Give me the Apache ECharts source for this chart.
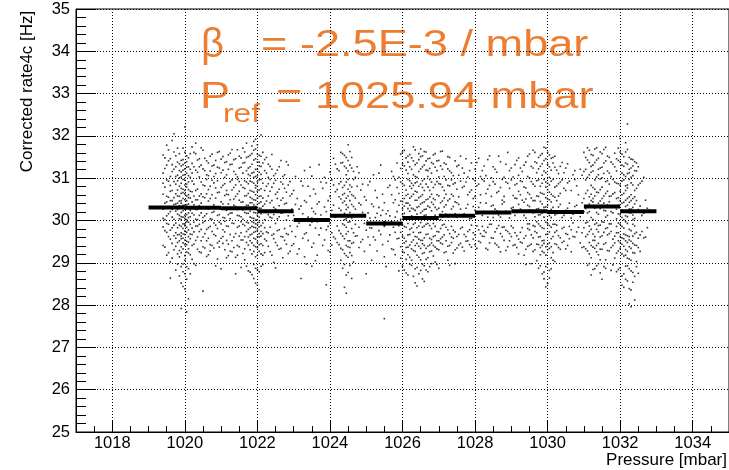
<!DOCTYPE html>
<html>
<head>
<meta charset="utf-8">
<script src="https://cdn.jsdelivr.net/npm/echarts@6/dist/echarts.min.js"></script>
<style>
html,body{margin:0;padding:0;background:#fff;}
#chart{width:729px;height:470px;}
</style>
</head>
<body>
<div id="chart"></div>
<script>
// ---- Axis definitions ----
const xMajorTicks = [1018, 1020, 1022, 1024, 1026, 1028, 1030, 1032, 1034];

// ---- Profile (mean per 1 mbar bin) ----
const profBinLow  = [1019, 1020, 1021, 1022, 1023, 1024, 1025, 1026, 1027, 1028, 1029, 1030, 1031, 1032];
const profBinHigh = [1020, 1021, 1022, 1023, 1024, 1025, 1026, 1027, 1028, 1029, 1030, 1031, 1032, 1033];
const profMean    = [30.31, 30.30, 30.29, 30.22, 30.01, 30.11, 29.93, 30.06, 30.11, 30.19, 30.22, 30.20, 30.33, 30.22];
const profErr     = [0.03, 0.02, 0.03, 0.04, 0.06, 0.04, 0.06, 0.03, 0.04, 0.04, 0.04, 0.04, 0.03, 0.03];

// ---- Scatter cloud: pressure column (mbar) and corrected rates (Hz) ----
const scatterColumnsA = [
[1019.4,[30.62,29.85,31.12,30.05,29.41,30.88,31.55,30.27]],
[1019.5,[29.72,30.44,31.31,30.96,29.18,30.11,31.78,29.93,30.57]],
[1019.6,[30.83,29.56,31.04,30.21,29.02,30.47,31.46,29.77,30.69,28.64]],
[1019.7,[30.38,31.21,29.64,30.92,30.03,29.31,31.62,30.54,29.89,32.05]],
[1019.8,[30.15,29.48,31.07,30.72,29.83,30.41,31.38,28.97,30.26,29.66,30.94,31.71,29.21,30.58]],
[1019.9,[30.33,29.71,30.88,29.24,31.15,30.02,29.57,30.64,31.42,28.91,30.19,29.86,30.47,31.03,29.38,30.76,28.52,30.09,29.63,31.29,27.92,30.41]],
[1020.0,[30.27,29.54,31.08,29.92,30.63,29.17,30.84,31.36,29.75,30.12,28.74,30.49,29.43,31.61,30.05,29.88,30.71,29.06,31.22,30.36,28.38,29.67,30.95,32.21]],
[1020.1,[30.18,29.62,30.91,31.27,29.33,30.54,29.96,30.73,28.86,31.48,30.07,29.49,30.39,31.06,29.78,30.61,28.15,29.23]],
[1020.2,[30.44,31.35,29.82,30.17,31.74,29.41,30.68,29.08,30.93,31.12,29.67]],
[1020.3,[30.71,29.53,31.19,30.26,29.87,31.58,30.49,28.94,30.03,31.83]],
[1020.4,[30.12,31.46,29.74,30.58,29.26,31.03,30.35,29.91,31.27]],
[1020.5,[30.84,29.61,31.22,30.07,29.38,30.56,31.66,29.95,28.33]],
[1020.6,[30.29,31.41,29.79,30.97,29.15,30.63,31.08,29.52,30.16]],
[1020.7,[30.52,29.43,31.17,30.04,29.86,30.81,31.52,29.28]],
[1020.8,[30.37,31.31,29.67,30.89,29.94,30.21,29.35,31.04]],
[1020.9,[29.81,30.66,31.26,30.12,29.47,30.94,31.61,29.09]],
[1021.0,[30.44,29.58,31.13,30.27,29.92,30.78,28.86,31.45]],
[1021.1,[30.06,31.37,29.73,30.59,29.31,30.87,31.02,29.98]],
[1021.2,[30.61,29.44,31.21,30.14,29.86,31.55,30.39,29.17]],
[1021.3,[29.94,30.72,31.33,30.18,29.52,30.96,31.68,29.26]],
[1021.4,[30.33,29.69,31.09,30.57,29.13,30.84,31.46,28.74]],
[1021.5,[30.48,29.87,31.24,30.11,29.38,30.69,31.52,29.63,30.92]],
[1021.6,[30.25,31.36,29.54,30.78,29.91,31.12,30.44,29.22,31.71,30.03]],
[1021.7,[30.59,29.74,31.18,30.36,29.48,30.91,31.49,29.96,30.17,28.92,31.83]],
[1021.8,[30.42,29.66,31.27,30.08,29.83,30.71,31.54,29.31,30.93,30.22,28.78,31.06,29.52,30.55]],
[1021.9,[30.31,29.58,31.14,30.67,29.27,30.05,31.43,29.84,30.88,28.96,30.49,31.66,29.41,30.19,29.72,31.02,30.37,28.63,31.87,29.95]],
[1022.0,[30.24,29.77,31.06,30.53,29.36,30.91,31.38,29.62,30.12,28.84,30.69,31.57,29.49,30.38,29.91,31.21,30.02,28.47,31.79,29.18,30.81,27.95]],
[1022.1,[30.16,29.63,30.97,31.28,29.45,30.44,29.88,30.75,31.52,29.21,30.29,28.92,31.09,30.58,29.74,32.02]],
[1022.2,[30.39,29.56,31.18,30.02,29.83,30.71,31.44,29.24]],
[1022.3,[30.14,31.02,29.71,30.58,29.39,30.87,31.33]],
[1022.4,[30.47,29.65,31.21,30.06,29.18,30.79,31.56]],
[1022.5,[29.93,30.62,31.11,30.27,29.48,30.95,28.88]],
[1022.6,[30.35,29.78,31.27,30.09,29.32,30.74]],
[1022.7,[30.18,31.04,29.61,30.53,29.12,30.86]],
[1022.8,[30.41,29.69,31.39,30.01,29.44,30.67]],
[1022.9,[30.23,29.87,30.92,29.27,30.58]],
[1023.0,[30.12,29.45,30.71]],
[1023.1,[29.86,30.52,29.21]],
[1023.2,[30.34,28.63,30.93]],
[1023.3,[29.68,30.47,31.18,29.14]],
[1023.4,[30.08,29.53,30.81]],
[1023.5,[30.29,29.37,31.05,28.92]],
[1023.6,[29.82,30.63,30.16,29.05]],
[1023.7,[30.44,29.66,31.32]],
[1023.8,[30.02,29.41,30.76]],
[1023.9,[30.21,29.78,30.89,28.48]],
[1024.0,[29.93,30.57,31.14,29.26]],
[1024.1,[30.36,29.61,30.84,31.47]],
[1024.2,[30.11,29.48,30.73,31.22,29.87]],
[1024.3,[30.24,29.69,30.92,31.36,29.34,30.51,29.06,31.61]],
[1024.4,[30.17,29.57,30.83,31.28,29.22,30.46,29.89,31.54,28.96,30.64,28.42,30.02]],
[1024.5,[30.31,29.74,30.97,31.42,29.38,30.58,29.13,31.17,29.96,30.74,28.77,31.79,29.52,30.09]],
[1024.6,[30.06,29.46,30.79,31.24,29.81,30.38,29.17,31.49,28.63,30.61]],
[1024.7,[30.27,29.63,31.02,29.91,30.53]],
[1024.8,[29.84,30.41,31.13,29.36]],
[1024.9,[30.19,29.55,30.86]],
[1025.0,[29.77,30.48,28.74]],
[1025.1,[30.06,29.42,30.92,29.83]],
[1025.2,[30.33,29.61,31.08]],
[1025.3,[29.91,30.54,29.28,30.17]],
[1025.4,[30.12,29.67,31.31]],
[1025.5,[29.86,30.42,29.14,27.68]],
[1025.6,[30.23,29.51,30.78]],
[1025.7,[29.97,30.61,29.33,31.16]],
[1025.8,[30.08,29.72,30.49,29.19,30.96]],
[1025.9,[30.36,29.58,31.02,29.88,30.64,28.81]],
[1026.0,[30.14,29.63,30.87,31.34,29.27,30.45,29.91,31.62,28.92,30.28]],
[1026.1,[30.03,29.51,30.72,31.19,29.36,30.41,29.84,31.48,28.76,30.59,29.08]],
[1026.2,[30.22,29.67,30.94,31.27,29.13,30.53,29.79,31.56,28.97,30.36,29.42,30.81]],
[1026.3,[30.09,29.54,30.83,31.41,29.29,30.62,29.91,31.08,28.68,30.27,29.72,31.74]],
[1026.4,[30.31,29.46,31.02,30.67,29.18,30.15,29.83,31.36,28.89,30.48,29.61,30.91,28.45]],
[1026.5,[30.18,29.72,30.86,31.22,29.34,30.57,29.07,31.51,29.95,30.39,28.82,31.69,29.53,30.04]],
[1026.6,[30.26,29.59,30.98,31.31,29.24,30.44,29.87,31.63,28.93,30.71,29.41,30.12,28.56]],
[1026.7,[30.07,29.68,30.79,31.18,29.39,30.51,29.12,31.46,29.93,30.34,28.79,31.04]],
[1026.8,[30.23,29.55,30.91,31.37,29.28,30.62,29.81,31.12,28.98,30.43,29.47]],
[1026.9,[30.12,29.64,30.85,31.26,29.37,30.49,29.02,31.58,29.86,30.31]],
[1027.0,[30.29,29.73,31.03,30.58,29.31,30.87,29.52,31.42,28.87]],
[1027.1,[30.08,29.61,30.79,31.21,29.44,30.46,29.89,31.64,30.21]],
[1027.2,[30.37,29.52,30.96,31.33,29.26,30.62,29.84,30.15]],
[1027.3,[30.14,29.69,30.82,31.17,29.41,30.51,28.94,31.49]],
[1027.4,[30.33,29.77,31.06,30.58,29.23,30.86,29.58]],
[1027.5,[30.09,29.62,30.74,31.28,29.35,30.42]],
[1027.6,[30.27,29.81,30.93,29.46,31.52]],
[1027.7,[30.16,29.67,30.81,31.12,29.28]],
[1027.8,[30.38,29.74,31.03,29.52,30.61]],
[1027.9,[30.05,29.89,30.72,31.36,29.37]],
[1028.0,[30.24,29.66,30.94,31.21,29.43,30.57]],
[1028.1,[30.31,29.78,30.86,31.47,29.51]],
[1028.2,[30.12,29.63,30.97,31.18,29.86]],
[1028.3,[30.41,29.72,31.06,30.64,29.34]],
[1028.4,[30.18,29.91,30.83,31.53,29.47]],
[1028.5,[30.36,29.58,30.92,31.27,30.07]],
[1028.6,[30.23,29.81,31.14,30.66,29.42]],
[1028.7,[30.08,29.69,30.78,31.39,29.26]],
[1028.8,[30.44,29.85,31.02,30.57,29.53]],
[1028.9,[30.17,29.74,30.88,31.61,29.38]],
[1029.0,[30.29,29.62,30.96,31.24,29.87]],
[1029.1,[30.12,29.71,30.84,31.32,29.43,30.53]],
[1029.2,[30.38,29.56,31.07,30.69,29.21,31.48]],
[1029.3,[30.21,29.83,30.92,31.16,29.47,30.48]],
[1029.4,[30.06,29.64,30.77,31.38,29.32,30.51,28.96]],
[1029.5,[30.33,29.78,31.01,30.62,29.41,31.57,29.92]],
[1029.6,[30.18,29.59,30.86,31.24,29.27,30.47,29.88,31.66]],
[1029.7,[30.27,29.71,30.94,31.36,29.44,30.58,29.05,31.13,29.97]],
[1029.8,[30.14,29.62,30.81,31.28,29.36,30.45,29.87,31.54,28.93,30.66,29.19]],
[1029.9,[30.31,29.53,30.97,31.42,29.24,30.62,29.81,31.17,28.78,30.08,29.46,31.73,28.62]],
[1030.0,[30.19,29.68,30.88,31.33,29.31,30.51,29.92,31.61,28.97,30.36,29.44,30.73,28.51,31.86]],
[1030.1,[30.26,29.57,30.93,31.19,29.38,30.44,29.84,31.47,28.86,30.62,29.12,30.07]],
[1030.2,[30.13,29.72,30.79,31.26,29.45,30.55,29.03,31.52,29.91]],
[1030.3,[30.32,29.64,30.87,31.11,29.36,30.58]],
[1030.4,[30.07,29.81,30.96,29.48,31.37]],
[1030.5,[30.24,29.69,30.71,31.24,29.33]],
[1030.6,[30.41,29.86,30.93,29.57]],
[1030.7,[30.15,29.62,31.08,29.94]],
[1030.8,[30.36,29.73,30.82]],
[1030.9,[30.09,29.47,31.21]],
[1031.0,[30.52,29.83,31.16,30.21,29.38,31.61]],
[1031.1,[30.34,29.67,31.02,31.43,29.28,30.71,29.96,31.72,28.94,30.18]],
[1031.2,[30.47,29.79,31.14,31.56,29.41,30.83,30.07,31.28,29.12,30.62,28.71]],
[1031.3,[30.29,29.62,30.96,31.37,29.34,30.58,29.91,31.69,28.86,30.74,29.53]],
[1031.4,[30.41,29.73,31.08,31.47,29.19,30.66,29.88,31.21,28.98,30.15,29.46]],
[1031.5,[30.36,29.64,31.01,31.58,29.32,30.79,29.97,31.26,28.61,30.52]],
[1031.6,[30.23,29.81,30.92,31.41,29.47,30.64,29.07,31.73,30.08,28.87]],
[1031.7,[30.44,29.69,31.12,30.57,29.28,30.86,31.49,29.92]],
[1031.8,[30.18,29.56,30.97,31.33,29.41,30.63,28.95]],
[1031.9,[30.27,29.71,30.88,31.46,29.23,30.52,29.86,31.17,28.79,30.04]],
[1032.0,[30.14,29.62,30.83,31.39,29.34,30.47,29.91,31.62,28.88,30.69,29.48,31.94]],
[1032.1,[30.21,29.57,30.96,31.28,29.16,30.43,29.82,31.51,28.74,30.64,29.39,31.08,28.42,30.02,29.68]],
[1032.2,[30.09,29.64,30.77,31.33,29.27,30.52,29.93,31.68,28.93,30.36,29.48,31.11,28.57,30.84,29.11,32.28]],
[1032.3,[30.18,29.51,30.89,31.24,29.34,30.61,29.76,31.45,28.81,30.27,29.06,31.02,28.36,30.47,27.96]],
[1032.4,[30.05,29.69,30.71,31.18,29.42,30.39,29.87,31.39,28.68,30.56,29.23,28.12]],
[1032.5,[30.26,29.58,30.84,31.27,29.36,28.75]],
[1032.6,[30.12,29.74,30.93]],
[1032.7,[29.61,30.48]],
[1032.8,[30.22]]
];

const scatterColumnsB = [
[1019.45,[30.41,29.76,31.23,30.02,29.37,30.79,31.48]],
[1019.55,[30.16,29.62,30.93,31.41,29.24,30.55,29.91,31.67,30.31]],
[1019.65,[30.47,29.83,31.16,30.08,29.46,30.71,31.32,29.11,30.26,31.89]],
[1019.75,[30.22,29.58,30.86,31.27,29.39,30.63,29.94,31.53,28.83,30.39,29.71,31.04]],
[1019.85,[30.35,29.67,31.01,30.57,29.29,30.12,29.89,31.34,28.69,30.81,29.52,31.18,30.04,29.14,31.58,30.46]],
[1019.95,[30.23,29.81,30.97,31.19,29.47,30.36,29.68,31.44,28.79,30.66,29.33,31.71,30.08,29.92,30.52,28.97,31.07,29.58,30.29,31.32,28.44,30.74]],
[1020.05,[30.14,29.72,30.79,31.12,29.26,30.58,29.84,31.53,28.91,30.37,29.51,31.26,30.02,29.97,30.86,28.61,31.39,29.43,30.47,27.84]],
[1020.15,[30.31,29.57,31.02,30.69,29.19,30.24,29.91,31.58,28.74,30.53,29.68,31.21,30.09]],
[1020.25,[30.58,29.73,31.27,30.13,29.44,30.86,31.61,29.96,30.37,28.98]],
[1020.35,[30.26,31.14,29.61,30.74,29.32,30.49,31.43,29.87,30.02]],
[1020.45,[30.63,29.52,31.31,30.18,29.79,30.91,31.72,29.24,30.41]],
[1020.55,[30.11,31.18,29.69,30.54,29.35,30.82,31.47,29.98]],
[1020.65,[30.46,29.58,31.06,30.27,29.83,30.73,31.36,29.19]],
[1020.75,[30.19,31.29,29.74,30.61,29.41,30.95,31.57,30.03]],
[1020.85,[30.53,29.64,31.11,30.32,29.89,30.77,31.42,28.93]],
[1020.95,[30.28,31.24,29.51,30.67,29.96,30.14,31.63,29.37]],
[1021.05,[30.39,29.78,31.19,30.07,29.46,30.83,31.51,29.62]],
[1021.15,[30.62,29.53,31.08,30.24,29.87,30.71,31.39,29.12]],
[1021.25,[30.17,31.32,29.67,30.49,29.28,30.92,31.59,30.04]],
[1021.35,[30.51,29.61,31.16,30.36,29.93,30.78,31.44,29.36]],
[1021.45,[30.26,29.84,31.03,30.63,29.41,30.97,31.67,29.18,30.12]],
[1021.55,[30.43,29.71,31.26,30.09,29.54,30.84,31.48,29.97,28.89]],
[1021.65,[30.19,29.62,30.94,31.37,29.33,30.58,29.88,31.62,30.31,29.07,30.76]],
[1021.75,[30.36,29.79,31.09,30.64,29.42,30.17,29.94,31.51,28.81,30.87,29.61,31.24]],
[1021.85,[30.27,29.68,30.91,31.33,29.21,30.52,29.86,31.58,28.72,30.42,29.47,31.12,30.06,29.97,31.76,30.69]],
[1021.95,[30.18,29.74,30.83,31.21,29.38,30.61,29.92,31.46,28.87,30.33,29.56,31.69,30.01,29.14,30.77,28.52,31.04,29.83,30.48,31.92]],
[1022.05,[30.29,29.61,30.96,31.29,29.27,30.57,29.85,31.54,28.79,30.41,29.43,31.14,30.08,29.96,30.72,28.36,31.38,29.69]],
[1022.15,[30.22,29.69,30.88,31.36,29.41,30.53,29.94,31.61,28.96,30.34,29.18]],
[1022.25,[30.46,29.73,31.12,30.19,29.52,30.81,31.49]],
[1022.35,[30.08,29.84,30.97,30.42,29.26,30.69,31.28]],
[1022.45,[30.31,29.57,31.06,30.14,29.68,30.88,29.01]],
[1022.55,[30.52,29.76,31.19,30.04,29.41,30.67]],
[1022.65,[30.17,29.62,30.91,31.42,29.34,30.48]],
[1022.75,[30.39,29.81,31.08,30.21,29.53,30.76]],
[1022.85,[30.11,29.67,30.84,31.31,29.22]],
[1022.95,[30.27,29.74,30.63,29.41]],
[1023.05,[30.38,29.62,31.04]],
[1023.15,[29.94,30.27,29.33]],
[1023.25,[30.16,29.58,30.82]],
[1023.35,[30.43,29.71,28.97]],
[1023.45,[29.89,30.58,31.26]],
[1023.55,[30.21,29.46,30.74]],
[1023.65,[29.97,30.39,29.18]],
[1023.75,[30.13,29.82,30.91]],
[1023.85,[30.32,29.54,31.02]],
[1023.95,[29.86,30.47,29.29]],
[1024.05,[30.24,29.71,30.96,29.42]],
[1024.15,[30.08,29.57,30.68,31.33]],
[1024.25,[30.29,29.76,30.87,31.18,29.43,30.56]],
[1024.35,[30.12,29.63,30.78,31.37,29.31,30.42,29.92,31.58,28.87,30.61]],
[1024.45,[30.26,29.68,30.91,31.24,29.17,30.53,29.84,31.49,28.71,30.37,29.41,31.08,30.04,28.28]],
[1024.55,[30.19,29.52,30.84,31.31,29.36,30.47,29.97,31.63,28.94,30.68,29.24,30.11]],
[1024.65,[30.33,29.71,30.97,31.16,29.48,30.58,29.02]],
[1024.75,[30.09,29.64,30.81,31.27]],
[1024.85,[30.37,29.49,30.72]],
[1024.95,[29.93,30.56,29.27]],
[1025.05,[30.18,29.61,30.84]],
[1025.15,[29.82,30.39,29.06]],
[1025.25,[30.07,29.54,30.71]],
[1025.35,[29.76,30.31,31.12]],
[1025.45,[30.24,29.43,30.62]],
[1025.55,[29.91,30.16,28.91]],
[1025.65,[30.11,29.66,30.83]],
[1025.75,[29.84,30.42,29.31,31.04]],
[1025.85,[30.21,29.57,30.78,29.94,31.36]],
[1025.95,[30.03,29.72,30.91,31.23,29.38,30.46,29.11,31.57]],
[1026.05,[30.17,29.58,30.83,31.29,29.24,30.52,29.86,31.66,28.83,30.34,29.47]],
[1026.15,[30.28,29.66,30.97,31.38,29.19,30.41,29.93,31.52,28.71,30.62,29.37,31.11]],
[1026.25,[30.11,29.49,30.76,31.21,29.33,30.57,29.82,31.48,28.94,30.29,29.06,30.88]],
[1026.35,[30.24,29.62,30.89,31.32,29.27,30.48,29.94,31.67,28.86,30.69,29.41,31.04,28.53]],
[1026.45,[30.06,29.71,30.81,31.16,29.39,30.54,29.13,31.44,29.87,30.33,28.74,31.58,29.56]],
[1026.55,[30.22,29.53,30.94,31.27,29.22,30.61,29.84,31.53,28.97,30.42,29.45,30.78,28.62]],
[1026.65,[30.13,29.67,30.86,31.41,29.34,30.49,29.08,31.19,29.91,30.27,28.83,31.62]],
[1026.75,[30.31,29.58,30.97,31.23,29.26,30.56,29.88,31.47,28.91,30.71,29.42]],
[1026.85,[30.07,29.62,30.78,31.34,29.41,30.52,29.16,31.55,29.93,30.38]],
[1026.95,[30.26,29.74,30.92,31.18,29.33,30.61,29.52,31.41,28.96]],
[1027.05,[30.14,29.57,30.86,31.29,29.47,30.42,29.81,31.63,30.02]],
[1027.15,[30.32,29.66,31.04,30.71,29.24,30.53,29.91,31.36]],
[1027.25,[30.09,29.78,30.83,31.22,29.39,30.47,29.06,31.51]],
[1027.35,[30.27,29.61,30.96,31.13,29.48,30.62,29.86]],
[1027.45,[30.16,29.73,30.89,31.41,29.31,30.44,28.98]],
[1027.55,[30.38,29.67,31.07,30.56,29.42,31.31]],
[1027.65,[30.11,29.84,30.78,31.24,29.37]],
[1027.75,[30.29,29.62,30.91,29.51,31.46]],
[1027.85,[30.04,29.78,30.67,31.18,29.43]],
[1027.95,[30.33,29.71,30.98,29.56,30.52]],
[1028.05,[30.16,29.87,30.82,31.37,29.34]],
[1028.15,[30.42,29.69,31.04,30.61,29.48]],
[1028.25,[30.21,29.76,30.93,31.29,29.62]],
[1028.35,[30.08,29.84,30.74,31.44,29.31]],
[1028.45,[30.34,29.59,31.01,30.57,29.91]],
[1028.55,[30.27,29.73,30.86,31.21,29.46]],
[1028.65,[30.13,29.88,30.69,31.52,29.37]],
[1028.75,[30.39,29.62,30.97,30.48,29.84]],
[1028.85,[30.22,29.77,30.91,31.33,29.29]],
[1028.95,[30.06,29.69,30.76,31.18,29.52]],
[1029.05,[30.31,29.83,31.03,30.59,29.41]],
[1029.15,[30.19,29.64,30.87,31.42,29.36,30.52]],
[1029.25,[30.27,29.72,30.94,31.24,29.49,30.61]],
[1029.35,[30.12,29.58,30.79,31.31,29.18,30.43]],
[1029.45,[30.36,29.81,31.04,30.66,29.39,31.52,29.92]],
[1029.55,[30.21,29.66,30.92,31.28,29.44,30.53,28.98]],
[1029.65,[30.09,29.74,30.81,31.39,29.31,30.47,29.86,31.61]],
[1029.75,[30.28,29.61,30.96,31.22,29.43,30.57,29.92,31.49,28.87,30.13]],
[1029.85,[30.17,29.52,30.88,31.34,29.27,30.64,29.83,31.58,28.74,30.39,29.41,31.07]],
[1029.95,[30.23,29.67,30.91,31.46,29.38,30.54,29.96,31.71,28.91,30.32,29.18,30.79,28.43,31.13]],
[1030.05,[30.12,29.73,30.84,31.27,29.34,30.49,29.88,31.55,28.82,30.67,29.47,31.02,28.64]],
[1030.15,[30.31,29.62,30.97,31.36,29.24,30.58,29.91,31.49,29.06,30.18]],
[1030.25,[30.16,29.76,30.82,31.19,29.43,30.47,29.89]],
[1030.35,[30.38,29.59,30.91,31.28,29.32,30.64]],
[1030.45,[30.12,29.84,30.76,29.51,31.13]],
[1030.55,[30.29,29.67,30.89,31.34,29.41]],
[1030.65,[30.06,29.78,30.71,29.26]],
[1030.75,[30.33,29.61,30.97,31.18]],
[1030.85,[30.19,29.84,30.61]],
[1030.95,[30.42,29.71,31.07,29.36]],
[1031.05,[30.28,29.62,30.96,31.49,29.33,30.64,29.94,31.21]],
[1031.15,[30.39,29.74,31.08,31.37,29.21,30.56,29.87,31.66,28.98,30.21,29.48]],
[1031.25,[30.52,29.68,31.17,31.54,29.37,30.78,30.02,31.31,28.84,30.44,29.53]],
[1031.35,[30.33,29.79,31.03,31.43,29.26,30.67,29.94,31.72,28.93,30.19,29.41]],
[1031.45,[30.46,29.61,30.98,31.62,29.32,30.73,29.89,31.24,29.07,30.28,28.76]],
[1031.55,[30.24,29.72,31.11,31.36,29.44,30.58,29.96,31.68,28.91,30.41]],
[1031.65,[30.37,29.66,30.94,31.52,29.29,30.69,29.83,31.17,30.12]],
[1031.75,[30.21,29.74,31.04,31.38,29.36,30.58,29.92,28.82]],
[1031.85,[30.32,29.63,30.91,31.27,29.47,30.66,29.11,31.59]],
[1031.95,[30.16,29.71,30.87,31.42,29.28,30.54,29.94,31.71,28.84,30.36,29.52]],
[1032.05,[30.24,29.59,30.93,31.31,29.21,30.61,29.86,31.57,28.69,30.41,29.44,31.12,28.47,30.07]],
[1032.15,[30.11,29.66,30.82,31.36,29.31,30.48,29.97,31.62,28.92,30.33,29.52,31.04,28.61,30.71,29.18,31.84]],
[1032.25,[30.27,29.54,30.97,31.21,29.38,30.56,29.79,31.49,28.86,30.18,29.09,31.13,28.39,30.43,29.62,28.03]],
[1032.35,[30.13,29.63,30.84,31.29,29.24,30.52,29.91,31.44,28.77,30.31,29.46,31.06,28.54,30.02]],
[1032.45,[30.21,29.72,30.76,31.17,29.41,30.47,29.03,31.36,28.91]],
[1032.55,[30.34,29.66,30.88,29.27]],
[1032.65,[30.17,29.59,31.02]],
[1032.75,[30.29,29.83]]
];

// ---- Build series data ----
const scatterData = [];
scatterColumnsA.concat(scatterColumnsB).forEach(function (col) {
  col[1].forEach(function (v) { scatterData.push([col[0], v]); });
});
const profileData = profBinLow.map(function (lo, i) {
  return [lo, profBinHigh[i], profMean[i], profErr[i]];
});

const FONT = '"Liberation Sans", Arial, Helvetica, sans-serif';
const ORANGE = '#ED7D31';

const chart = echarts.init(document.getElementById('chart'), null, {renderer: 'canvas'});
chart.setOption({
  animation: false,
  backgroundColor: '#fff',
  grid: {left: 76, top: 9, right: -1, bottom: 38, show: true, borderColor: '#000', borderWidth: 1},
  xAxis: [{
    type: 'value', min: 1017, max: 1035, position: 'bottom',
    axisLine: {show: true, onZero: false, lineStyle: {color: '#000', width: 1}},
    axisTick: {show: true, inside: true, length: 12, customValues: xMajorTicks, lineStyle: {color: '#000'}},
    axisLabel: {customValues: xMajorTicks, fontSize: 16.5, color: '#000', margin: 3, fontFamily: FONT,
                formatter: function (v) { return String(v); }},
    splitLine: {show: true, lineStyle: {type: [1, 2], color: '#000', width: 1}}
  }, {
    type: 'value', min: 1017, max: 1035, interval: 0.5, position: 'bottom',
    axisLine: {show: false},
    axisTick: {show: true, inside: true, length: 6, lineStyle: {color: '#000'}},
    axisLabel: {show: false},
    splitLine: {show: false}
  }],
  yAxis: {
    type: 'value', min: 25, max: 35, interval: 1,
    axisLine: {show: true, onZero: false, lineStyle: {color: '#000', width: 1}},
    axisTick: {show: true, inside: true, length: 20, lineStyle: {color: '#000'}},
    minorTick: {show: true, splitNumber: 5, length: 10, lineStyle: {color: '#000'}},
    axisLabel: {fontSize: 16.5, color: '#000', margin: 6, fontFamily: FONT},
    splitLine: {show: true, lineStyle: {type: [1, 2], color: '#000', width: 1}}
  },
  series: [{
    type: 'scatter', xAxisIndex: 0, yAxisIndex: 0,
    data: scatterData, symbol: 'rect', symbolSize: 1.6,
    itemStyle: {color: '#000'}, silent: true, z: 2, large: false
  }, {
    type: 'custom', xAxisIndex: 0, yAxisIndex: 0, z: 3, silent: true,
    data: profileData,
    renderItem: function (params, api) {
      const lo = api.value(0), hi = api.value(1), m = api.value(2), e = api.value(3);
      const p0 = api.coord([lo, m]);
      const p1 = api.coord([hi, m]);
      const c = (lo + hi) / 2;
      const e0 = api.coord([c, m + e]);
      const e1 = api.coord([c, m - e]);
      return {type: 'group', children: [
        {type: 'line', shape: {x1: p0[0], y1: p0[1], x2: p1[0], y2: p1[1]}, style: {stroke: '#000', lineWidth: 4}},
        {type: 'line', shape: {x1: e0[0], y1: e0[1], x2: e1[0], y2: e1[1]}, style: {stroke: '#000', lineWidth: 2}}
      ]};
    }
  }],
  graphic: [
    {type: 'text', x: 27.5, y: 91.5, rotation: Math.PI / 2,
     style: {text: 'Corrected rate4c [Hz]', font: '17px ' + FONT, fill: '#000', align: 'center', verticalAlign: 'middle'}},
    {type: 'text', x: 727, y: 460,
     style: {text: 'Pressure [mbar]', font: '17px ' + FONT, fill: '#000', align: 'right', verticalAlign: 'middle'}},
    {type: 'text', x: 201, y: 46, scaleX: 1.0,
     style: {text: 'β', font: '40px ' + FONT, fill: ORANGE, align: 'left', verticalAlign: 'middle'}},
    {type: 'text', x: 261, y: 46, scaleX: 1.22,
     style: {text: '= -2.5E-3 / mbar', font: '37px ' + FONT, fill: ORANGE, align: 'left', verticalAlign: 'middle'}},
    {type: 'text', x: 200, y: 98, scaleX: 1.22,
     style: {text: 'P', font: '37px ' + FONT, fill: ORANGE, align: 'left', verticalAlign: 'middle'}},
    {type: 'text', x: 223, y: 115, scaleX: 1.22,
     style: {text: 'ref', font: '26px ' + FONT, fill: ORANGE, align: 'left', verticalAlign: 'middle'}},
    {type: 'text', x: 276, y: 98, scaleX: 1.22,
     style: {text: '= 1025.94 mbar', font: '37px ' + FONT, fill: ORANGE, align: 'left', verticalAlign: 'middle'}}
  ]
});
</script>
</body>
</html>
